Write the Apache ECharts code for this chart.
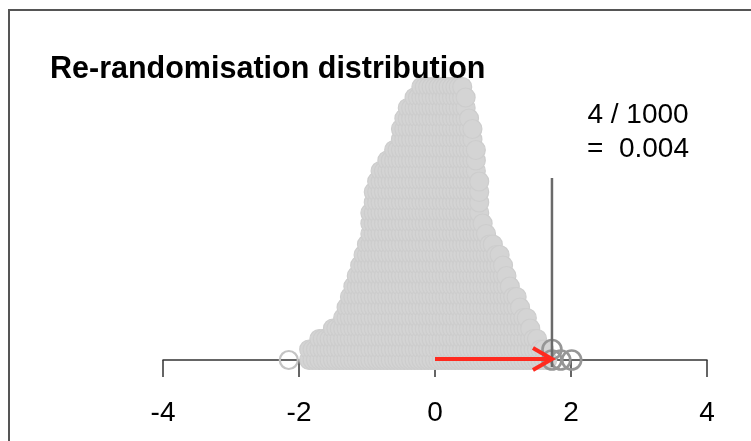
<!DOCTYPE html>
<html><head><meta charset="utf-8">
<script src="https://cdn.jsdelivr.net/npm/echarts@6/dist/echarts.min.js"></script>
<style>html,body{margin:0;padding:0;background:#fff}#c{width:751px;height:441px}</style>
</head><body><div id="c"></div>
<script>
// ---- data ----
const titleText = 'Re-randomisation distribution';
const xTicks = [-4, -2, 0, 2, 4];
// stacked dot plot: bin centre and number of stacked dots
const binCenters = [-1.85,-1.80,-1.75,-1.70,-1.65,-1.60,-1.55,-1.50,-1.45,-1.40,-1.35,-1.30,-1.25,-1.20,-1.15,-1.10,-1.05,-1.00,-0.95,-0.90,-0.85,-0.80,-0.75,-0.70,-0.65,-0.60,-0.55,-0.50,-0.45,-0.40,-0.35,-0.30,-0.25,-0.20,-0.15,-0.10,-0.05,0.00,0.05,0.10,0.15,0.20,0.25,0.30,0.35,0.40,0.45,0.50,0.55,0.60,0.65,0.70,0.75,0.80,0.85,0.90,0.95,1.00,1.05,1.10,1.15,1.20,1.25,1.30,1.35,1.40,1.45,1.50,1.55,1.60,1.65];
const stackCounts = [2,2,2,3,3,3,3,4,4,4,5,6,7,8,9,10,11,12,15,17,18,19,19,20,20,21,21,23,24,25,25,26,26,27,27,27,27,27,27,27,27,27,27,27,27,27,26,24,23,21,18,14,13,12,12,11,11,10,9,8,7,7,6,5,5,4,3,3,2,2,1];
const outlierBins = [-2.15];
const outlierCounts = [1];
const extremeBins = [1.72, 1.85, 2.01];
const extremeCounts = [2, 1, 1];
const observedDiff = 1.72;
const totalRuns = 1000;
const pValueText = '0.004';

// ---- build ----
function stackPoints(centers, counts) {
  const pts = [];
  centers.forEach((c, i) => { for (let k = 0; k < counts[i]; k++) pts.push([c, k]); });
  return pts;
}
const extremeTotal = extremeCounts.reduce((a, b) => a + b, 0);
const FONT = "'Liberation Sans', Arial, Helvetica, sans-serif";

const chart = echarts.init(document.getElementById('c'), null, { renderer: 'canvas' });
chart.setOption({
  animation: false,
  backgroundColor: '#ffffff',
  title: {
    text: titleText, left: 50, top: 54, padding: 0,
    textStyle: { fontFamily: FONT, fontSize: 30.5, fontWeight: 'bold', color: '#000' }
  },
  grid: { left: 163, right: 44, top: 45, bottom: 81, containLabel: false },
  xAxis: {
    type: 'value', min: xTicks[0], max: xTicks[xTicks.length - 1], interval: 2,
    axisLine: { show: true, lineStyle: { color: '#333', width: 1.5 } },
    axisTick: { show: true, length: 17, lineStyle: { color: '#333', width: 1.5 } },
    axisLabel: { fontFamily: FONT, fontSize: 28, color: '#000', margin: 39 },
    splitLine: { show: false }
  },
  yAxis: { type: 'value', min: 0, max: 30, show: false },
  graphic: [
    { type: 'rect', shape: { x: 9, y: 10, width: 800, height: 500 },
      style: { fill: 'none', stroke: '#555', lineWidth: 2 }, z: 100, silent: true },
    { type: 'text', x: 638, y: 98,
      style: { text: extremeTotal + ' / ' + totalRuns + '\n=  ' + pValueText,
        fontFamily: FONT, fontSize: 28, lineHeight: 34, fill: '#000', align: 'center', verticalAlign: 'top' } }
  ],
  series: [
    { type: 'scatter', z: 2, clip: false, symbol: 'circle', symbolSize: 19,
      itemStyle: { color: '#d4d4d4', borderColor: '#cdcdcd', borderWidth: 1.2, opacity: 1 },
      data: stackPoints(binCenters, stackCounts) },
    { type: 'scatter', z: 2, clip: false, symbol: 'circle', symbolSize: 18,
      itemStyle: { color: 'rgba(0,0,0,0)', borderColor: '#c4c4c4', borderWidth: 2.2, opacity: 1 },
      data: stackPoints(outlierBins, outlierCounts) },
    { type: 'scatter', z: 3, clip: false, symbol: 'circle', symbolSize: 19,
      itemStyle: { color: 'rgba(0,0,0,0)', borderColor: '#969696', borderWidth: 2.6, opacity: 1 },
      data: stackPoints(extremeBins, extremeCounts) },
    { type: 'custom', z: 4, clip: false, data: [[observedDiff, 0]],
      renderItem: function (params, api) {
        const p = api.coord([api.value(0), 0]);
        return { type: 'line', shape: { x1: p[0], y1: p[1] + 7, x2: p[0], y2: p[1] - 182 },
          style: { stroke: '#6a6a6a', lineWidth: 2.5 } };
      } },
    { type: 'custom', z: 5, clip: false, data: [[0, observedDiff]],
      renderItem: function (params, api) {
        const s = api.coord([api.value(0), 0]);
        const e = api.coord([api.value(1), 0]);
        const y = s[1] - 1;
        return { type: 'group', children: [
          { type: 'line', shape: { x1: s[0], y1: y, x2: e[0] - 1, y2: y },
            style: { stroke: '#ff2a1f', lineWidth: 4 } },
          { type: 'polyline', shape: { points: [[e[0] - 19, y - 11], [e[0], y], [e[0] - 19, y + 11]] },
            style: { stroke: '#ff2a1f', lineWidth: 4, fill: 'none' } }
        ] };
      } }
  ]
});
</script></body></html>
